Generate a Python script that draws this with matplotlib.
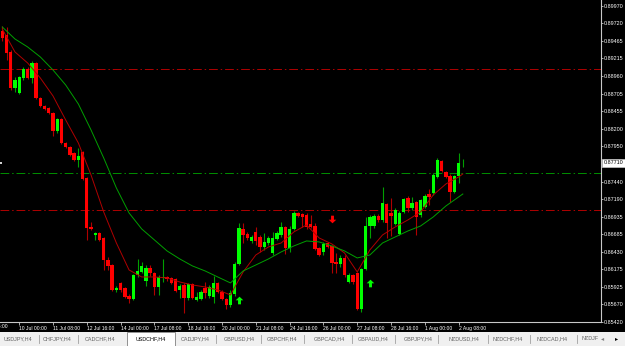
import numpy as np
import matplotlib.pyplot as plt
from matplotlib.path import Path
from matplotlib.transforms import blended_transform_factory

# USDCHF H4, bars 0..109 (oldest -> newest)
opens = [0.89609, 0.89552, 0.89307, 0.88788, 0.88716, 0.88932, 0.89062, 0.88932, 0.89148, 0.88644,
         0.88529, 0.88500, 0.88428, 0.88168, 0.88341, 0.87995, 0.87938, 0.87851, 0.87750, 0.87866,
         0.87491, 0.86785, 0.86670, 0.86698, 0.86626, 0.86309, 0.86237, 0.85877, 0.85978, 0.85906,
         0.85791, 0.85747, 0.86093, 0.86136, 0.86007, 0.86194, 0.86122, 0.85920, 0.86050, 0.86064,
         0.86050, 0.86036, 0.85877, 0.85949, 0.85762, 0.85964, 0.85733, 0.85747, 0.85906, 0.85791,
         0.85776, 0.85978, 0.85848, 0.85747, 0.85661, 0.85819, 0.86252, 0.86756, 0.86684, 0.86583,
         0.86713, 0.86641, 0.86497, 0.86554, 0.86410, 0.86612, 0.86670, 0.86785, 0.86482, 0.86756,
         0.86987, 0.86972, 0.86958, 0.86828, 0.86799, 0.86482, 0.86425, 0.86554, 0.86511, 0.86280,
         0.86252, 0.86338, 0.85992, 0.86093, 0.86122, 0.85603, 0.86180, 0.86799, 0.86799, 0.86943,
         0.86886, 0.87116, 0.86987, 0.86828, 0.86684, 0.87001, 0.87203, 0.87059, 0.87145, 0.86958,
         0.87073, 0.87260, 0.87275, 0.87505, 0.87736, 0.87577, 0.87520, 0.87289, 0.87520, 0.87700]
highs = [0.89681, 0.89667, 0.89336, 0.88946, 0.88961, 0.89091, 0.89091, 0.89177, 0.89163, 0.88658,
         0.88543, 0.88514, 0.88442, 0.88356, 0.88356, 0.88010, 0.87952, 0.87866, 0.87923, 0.87880,
         0.87505, 0.86857, 0.86713, 0.86713, 0.86641, 0.86353, 0.86252, 0.85935, 0.85992, 0.85920,
         0.85819, 0.86108, 0.86324, 0.86280, 0.86237, 0.86237, 0.86136, 0.86093, 0.86324, 0.86079,
         0.86064, 0.86050, 0.85964, 0.85978, 0.85978, 0.85978, 0.85848, 0.85877, 0.85992, 0.85949,
         0.86079, 0.85992, 0.85877, 0.85762, 0.85877, 0.86280, 0.86843, 0.86843, 0.86713, 0.86670,
         0.86785, 0.86670, 0.86698, 0.86655, 0.86713, 0.86727, 0.86857, 0.86799, 0.86799, 0.87015,
         0.87001, 0.86987, 0.86987, 0.86958, 0.86843, 0.86497, 0.86569, 0.86569, 0.86526, 0.86410,
         0.86381, 0.86381, 0.86122, 0.86108, 0.86136, 0.86194, 0.86929, 0.86958, 0.86972, 0.86972,
         0.87361, 0.87131, 0.87203, 0.87059, 0.87015, 0.87203, 0.87232, 0.87217, 0.87160, 0.87188,
         0.87260, 0.87333, 0.87563, 0.87779, 0.87750, 0.87592, 0.87549, 0.87534, 0.87851, 0.87765]
lows = [0.89465, 0.89191, 0.88759, 0.88730, 0.88701, 0.88903, 0.88918, 0.88860, 0.88629, 0.88514,
        0.88471, 0.88413, 0.88096, 0.88139, 0.87981, 0.87923, 0.87808, 0.87736, 0.87650, 0.87462,
        0.86598, 0.86742, 0.86598, 0.86583, 0.86165, 0.86165, 0.85863, 0.85848, 0.85848, 0.85762,
        0.85690, 0.85733, 0.86064, 0.86122, 0.85935, 0.86079, 0.85805, 0.85805, 0.85992, 0.86007,
        0.85964, 0.85848, 0.85762, 0.85546, 0.85733, 0.85747, 0.85719, 0.85733, 0.85762, 0.85762,
        0.85690, 0.85834, 0.85733, 0.85603, 0.85632, 0.85791, 0.86237, 0.86554, 0.86598, 0.86554,
        0.86526, 0.86425, 0.86454, 0.86526, 0.86381, 0.86598, 0.86641, 0.86396, 0.86425, 0.86742,
        0.86929, 0.86785, 0.86756, 0.86771, 0.86454, 0.86367, 0.86381, 0.86482, 0.86122, 0.86122,
        0.86209, 0.86064, 0.85978, 0.85964, 0.85589, 0.85560, 0.86165, 0.86626, 0.86771, 0.86857,
        0.86857, 0.86626, 0.86655, 0.86814, 0.86670, 0.86987, 0.87001, 0.87030, 0.86670, 0.86929,
        0.87059, 0.87102, 0.87246, 0.87491, 0.87577, 0.87491, 0.87145, 0.87275, 0.87419, 0.87650]
closes = [0.89508, 0.89292, 0.88788, 0.88903, 0.88946, 0.89062, 0.88932, 0.89148, 0.88644, 0.88529,
          0.88485, 0.88428, 0.88168, 0.88341, 0.87995, 0.87938, 0.87822, 0.87750, 0.87808, 0.87477,
          0.86771, 0.86756, 0.86698, 0.86598, 0.86309, 0.86223, 0.85877, 0.85906, 0.85877, 0.85776,
          0.85747, 0.86093, 0.86151, 0.86223, 0.86194, 0.86122, 0.85920, 0.86064, 0.86064, 0.86036,
          0.85978, 0.85863, 0.85935, 0.85762, 0.85964, 0.85762, 0.85776, 0.85848, 0.85834, 0.85920,
          0.85978, 0.85848, 0.85747, 0.85661, 0.85834, 0.86252, 0.86771, 0.86670, 0.86626, 0.86641,
          0.86583, 0.86497, 0.86569, 0.86626, 0.86626, 0.86698, 0.86785, 0.86482, 0.86756, 0.86987,
          0.86943, 0.86929, 0.86785, 0.86785, 0.86468, 0.86381, 0.86540, 0.86497, 0.86266, 0.86252,
          0.86338, 0.86093, 0.86093, 0.85992, 0.85603, 0.86180, 0.86799, 0.86929, 0.86943, 0.86886,
          0.87131, 0.86843, 0.86943, 0.87030, 0.86987, 0.87188, 0.87059, 0.87131, 0.86929, 0.87174,
          0.87232, 0.87217, 0.87534, 0.87750, 0.87592, 0.87505, 0.87289, 0.87520, 0.87707, 0.87710]

# moving averages every 3 bars
ma_bars = [0, 3, 6, 9, 12, 15, 18, 21, 24, 27, 30, 33, 36, 39, 42, 45, 48, 51, 54,
           57, 60, 63, 66, 69, 72, 75, 78, 81, 84, 87, 90, 93, 96, 99, 102, 105, 108, 109]
ma_fast = [0.89638, 0.89307, 0.89148, 0.88932, 0.88673, 0.88327, 0.87995, 0.87534, 0.87001,
           0.86554, 0.86165, 0.86064, 0.86064, 0.86050, 0.85992, 0.85949, 0.85920, 0.85877,
           0.85805, 0.86136, 0.86381, 0.86497, 0.86554, 0.86713, 0.86814, 0.86626, 0.86540,
           0.86410, 0.86136, 0.86454, 0.86670, 0.86785, 0.86886, 0.87001, 0.87246, 0.87405,
           0.87505, 0.87549]
ma_slow = [0.89667, 0.89494, 0.89379, 0.89235, 0.89047, 0.88831, 0.88557, 0.88183, 0.87779,
           0.87347, 0.86987, 0.86756, 0.86598, 0.86439, 0.86324, 0.86223, 0.86151, 0.86064,
           0.85978, 0.86151, 0.86237, 0.86324, 0.86425, 0.86511, 0.86583, 0.86569, 0.86511,
           0.86439, 0.86338, 0.86381, 0.86554, 0.86641, 0.86727, 0.86799, 0.86929, 0.87088,
           0.87217, 0.87260]

# horizontal levels
red_levels = [0.89060, 0.87025]
green_levels = [0.87560]

# signal arrows
up_bars = [56, 87]
up_prices = [0.85733, 0.85978]
down_bars = [78]
down_prices = [0.86900]

price_ticks = [0.89970, 0.89720, 0.89465, 0.89215, 0.88960, 0.88705, 0.88455, 0.88200, 0.87950,
               0.87440, 0.87190, 0.86935, 0.86685, 0.86430, 0.86175, 0.85925, 0.85670, 0.85420]
last_price = 0.87710

time_bars = [4, 12, 20, 28, 36, 44, 52, 60, 68, 76, 84, 92, 100, 108]
time_labels = ['10 Jul 00:00', '11 Jul 08:00', '12 Jul 16:00', '14 Jul 00:00', '17 Jul 08:00',
               '18 Jul 16:00', '20 Jul 00:00', '21 Jul 08:00', '24 Jul 16:00', '26 Jul 00:00',
               '27 Jul 08:00', '28 Jul 16:00', '1 Aug 00:00', '2 Aug 08:00']
first_label = '6 Jul 16:00'   # cut off at the left edge, as in the terminal

tabs = ['USDJPY,H4', 'CHFJPY,H4', 'CADCHF,H4', 'USDCHF,H4', 'CADJPY,H4', 'GBPUSD,H4', 'GBPCHF,H4',
        'GBPCAD,H4', 'GBPAUD,H4', 'GBPJPY,H4', 'NZDUSD,H4', 'NZDCHF,H4', 'NZDCAD,H4', 'NZDJF']
active_tab = 'USDCHF,H4'

plt.rcParams['font.family'] = ['Liberation Sans', 'DejaVu Sans']

W, H = 625, 346
fig = plt.figure(figsize=(W / 100, H / 100), dpi=100, facecolor='black')
ax = fig.add_axes([0, 24 / H, 601 / W, 322 / H], facecolor='black')

o = np.array(opens); hi = np.array(highs); lo = np.array(lows); c = np.array(closes)
x = np.arange(len(o))
up = c >= o

# wicks
ax.vlines(x[up], lo[up], hi[up], color='#00a000', lw=0.8, zorder=2)
ax.vlines(x[~up], lo[~up], hi[~up], color='#b00000', lw=0.8, zorder=2)
# bodies
body_h = np.maximum(np.abs(c - o), 0.00012)
ax.bar(x[up], body_h[up], bottom=np.minimum(o, c)[up], width=0.8, color='#00ff00', lw=0, zorder=3)
ax.bar(x[~up], body_h[~up], bottom=np.minimum(o, c)[~up], width=0.8, color='#ff0000', lw=0, zorder=3)

# moving averages
ax.plot(ma_bars, ma_fast, color='#b00000', lw=0.7, zorder=4)
ax.plot(ma_bars, ma_slow, color='#00a000', lw=0.7, zorder=4)

for lv in red_levels:
    ax.axhline(lv, color='#b00000', lw=0.7, ls=(0, (9, 3, 1.5, 3)), zorder=1)
for lv in green_levels:
    ax.axhline(lv, color='#009000', lw=0.7, ls=(0, (9, 3, 1.5, 3)), zorder=1)

# arrow markers
arrow_up = Path([(0, 1), (1, 0.05), (0.38, 0.05), (0.38, -1), (-0.38, -1), (-0.38, 0.05),
                 (-1, 0.05), (0, 1)], closed=True)
arrow_dn = Path([(px, -py) for px, py in arrow_up.vertices], closed=True)
ax.plot(up_bars, up_prices, ls='none', marker=arrow_up, ms=5.5, color='#00ff00', mew=0, zorder=5)
ax.plot(down_bars, down_prices, ls='none', marker=arrow_dn, ms=5.5, color='#ff0000', mew=0, zorder=5)

ax.set_xlim(-0.544, 141.7)
ax.set_ylim(0.85415, 0.90056)

# axes frame like the terminal
for s in ['top', 'left']:
    ax.spines[s].set_visible(False)
for s in ['right', 'bottom']:
    ax.spines[s].set_color('#c8c8c8')
    ax.spines[s].set_linewidth(0.8)

ax.yaxis.tick_right()
ax.set_yticks(price_ticks)
ax.set_yticklabels(['%.5f' % p for p in price_ticks])
ax.tick_params(axis='y', colors='#c8c8c8', labelcolor='white', labelsize=3.9, length=1.5,
               width=0.6, pad=0.8)

ax.set_xticks(time_bars)
ax.set_xticklabels(time_labels)
ax.tick_params(axis='x', colors='#c8c8c8', labelcolor='white', labelsize=3.6, length=2,
               width=0.6, pad=0.6)
for lbl in ax.get_xticklabels():
    lbl.set_ha('left')
tr = blended_transform_factory(ax.transData, ax.transAxes)
ax.text(-4.5, -0.006, first_label, transform=tr, ha='left', va='top', fontsize=3.6, color='white',
        clip_on=False)

# small shift marker on the left edge
tr_y = blended_transform_factory(ax.transAxes, ax.transData)
ax.plot([0.002], [last_price], transform=tr_y, marker='s', ms=1.6, color='#d0d0d0', mew=0,
        clip_on=False, zorder=6)

# current price box
ax.text(1.004, last_price, '%.5f' % last_price, transform=tr_y, ha='left', va='center',
        fontsize=3.9, color='black', zorder=6,
        bbox=dict(boxstyle='square,pad=0.25', fc='white', ec='#c8c8c8', lw=0.5))

# symbol tabs along the bottom
tab_ax = fig.add_axes([0, 0, 1, 14 / H], facecolor='#f0f0f0')
tab_ax.set_xlim(0, W)
tab_ax.set_ylim(0, 14)
tab_ax.set_xticks([])
tab_ax.set_yticks([])
for s in tab_ax.spines.values():
    s.set_visible(False)
tab_centers = [18, 57, 100, 151, 195, 239, 282, 329, 373, 418, 464, 508, 552, 590]
for name, cx in zip(tabs, tab_centers):
    if name == active_tab:
        tab_ax.add_patch(plt.Rectangle((127, 0.5), 48, 13.5, fc='white', ec='#808080', lw=0.6))
        tab_ax.text(cx, 7, name, ha='center', va='center', fontsize=3.9, color='black')
    else:
        tab_ax.text(cx, 7, name, ha='center', va='center', fontsize=3.9, color='#606060')
for sx in [39, 78, 216, 261, 304, 352, 395, 438, 488, 530, 577]:
    tab_ax.plot([sx, sx], [3, 11], color='#a0a0a0', lw=0.6)
tab_ax.text(603, 7, '\u25c2', ha='center', va='center', fontsize=4.5, color='#808080')
tab_ax.text(617, 7, '\u25b8', ha='center', va='center', fontsize=4.5, color='black')

fig.savefig('out.png', dpi=100, facecolor='black')
